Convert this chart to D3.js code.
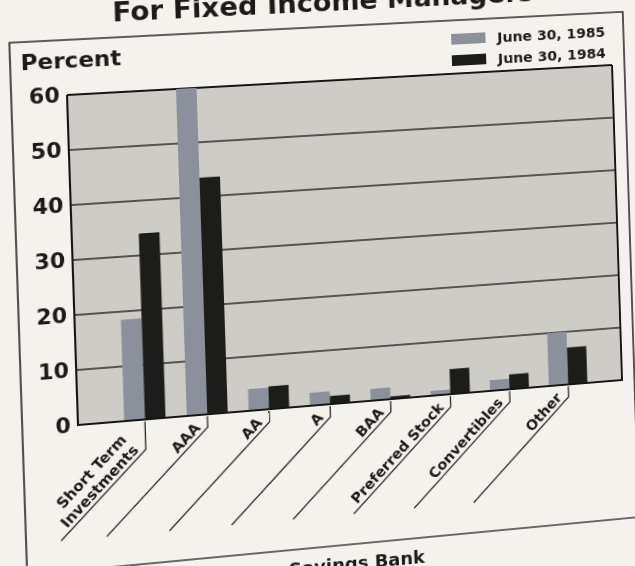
<!DOCTYPE html>
<html>
<head>
<meta charset="utf-8">
<script src="https://cdn.jsdelivr.net/npm/d3@7"></script>
<style>
  html, body { margin: 0; padding: 0; width: 635px; height: 566px; overflow: hidden; background: #f3f2ed; }
  #page { position: absolute; left: 0; top: 0; transform-origin: 0 0; }
  text { font-family: "DejaVu Sans", sans-serif; font-weight: bold; fill: #1b1b19; }
</style>
</head>
<body>
<div id="page"></div>
<script>
// chart data
const categories = ['Short Term\nInvestments', 'AAA', 'AA', 'A', 'BAA', 'Preferred Stock', 'Convertibles', 'Other'];
const seriesNames = ['June 30, 1985', 'June 30, 1984'];
const values1985 = [18.5, 60, 4, 2.4, 2.2, 0.9, 2.0, 10];
const values1984 = [34, 43.5, 4.2, 1.5, 0.5, 4.7, 2.8, 7];
const yTicks = [0, 10, 20, 30, 40, 50, 60];
const seriesColors = ['#8b909b', '#1c1c18'];

const W = 700, H = 680;
const plot = { left: 70, top: 95, right: 615, bottom: 425 };
const frame = { left: 17, top: 40, right: 628, rule: 570 };

// the scan is a tilted photo of the page: map the flat chart onto it
const photoCorners = [[67, 95], [612, 65], [78, 425], [622, 380]];

function homography(src, dst) {
  const A = [], B = [];
  src.forEach(([px, py], i) => {
    const [X, Y] = dst[i];
    A.push([px, py, 1, 0, 0, 0, -px * X, -py * X]); B.push(X);
    A.push([0, 0, 0, px, py, 1, -px * Y, -py * Y]); B.push(Y);
  });
  const n = 8;
  for (let c = 0; c < n; c++) {
    let p = c;
    for (let r = c + 1; r < n; r++) if (Math.abs(A[r][c]) > Math.abs(A[p][c])) p = r;
    [A[c], A[p]] = [A[p], A[c]];
    [B[c], B[p]] = [B[p], B[c]];
    for (let r = 0; r < n; r++) {
      if (r === c) continue;
      const f = A[r][c] / A[c][c];
      for (let k = c; k < n; k++) A[r][k] -= f * A[c][k];
      B[r] -= f * B[c];
    }
  }
  return B.map((b, i) => b / A[i][i]);
}

const [a, b, c, d, e, f, g, h] = homography(
  [[plot.left, plot.top], [plot.right, plot.top], [plot.left, plot.bottom], [plot.right, plot.bottom]],
  photoCorners);
document.getElementById('page').style.transform =
  `matrix3d(${a},${d},0,${g},${b},${e},0,${h},0,0,1,0,${c},${f},0,1)`;

const svg = d3.select('#page').append('svg')
  .attr('width', W)
  .attr('height', H);

const x = d3.scaleBand()
  .domain(categories)
  .range([plot.left, plot.right])
  .paddingInner(0.34)
  .paddingOuter(0.665)
  .align(0.55);

const sub = d3.scaleBand()
  .domain(seriesNames)
  .range([0, x.bandwidth()]);

const y = d3.scaleLinear()
  .domain([0, 60])
  .range([plot.bottom, plot.top]);

// page frame
svg.append('path')
  .attr('d', `M${frame.left},${H} V${frame.top} H${frame.right} V${H}`)
  .attr('fill', 'none')
  .attr('stroke', '#2a2a28')
  .attr('stroke-width', 1.6);
svg.append('line')
  .attr('x1', frame.left).attr('x2', frame.right)
  .attr('y1', frame.rule).attr('y2', frame.rule)
  .attr('stroke', '#3a3a38')
  .attr('stroke-width', 1.4);

svg.append('text')
  .attr('x', 116)
  .attr('y', 24)
  .style('font-size', '27px')
  .text('For Fixed Income Managers');

svg.append('text')
  .attr('x', frame.left + 253)
  .attr('y', frame.rule + 26)
  .style('font-size', '18px')
  .text('Savings Bank');

svg.append('text')
  .attr('x', 27)
  .attr('y', 68)
  .style('font-size', '22px')
  .text('Percent');

// legend
const legend = svg.append('g')
  .attr('transform', 'translate(450, 54)');
seriesNames.forEach((name, i) => {
  legend.append('rect')
    .attr('x', 0)
    .attr('y', i * 22)
    .attr('width', 35)
    .attr('height', 11)
    .attr('fill', seriesColors[i]);
  legend.append('text')
    .attr('x', 47)
    .attr('y', i * 22 + 11)
    .style('font-size', '14.5px')
    .text(name);
});

// plot background and grid
svg.append('rect')
  .attr('x', plot.left)
  .attr('y', plot.top)
  .attr('width', plot.right - plot.left)
  .attr('height', plot.bottom - plot.top)
  .attr('fill', '#cdccc7');

svg.append('g')
  .selectAll('line')
  .data(yTicks.filter(t => t > 0 && t < 60))
  .enter()
  .append('line')
  .attr('x1', plot.left)
  .attr('x2', plot.right)
  .attr('y1', t => y(t))
  .attr('y2', t => y(t))
  .attr('stroke', '#2c2c2a')
  .attr('stroke-width', 1.3);

svg.append('line')
  .attr('x1', plot.left).attr('x2', plot.right)
  .attr('y1', plot.top).attr('y2', plot.top)
  .attr('stroke', '#151513')
  .attr('stroke-width', 2);

// bars
const rows = [];
categories.forEach((cat, i) => {
  rows.push({ cat, series: seriesNames[0], value: values1985[i], color: seriesColors[0] });
  rows.push({ cat, series: seriesNames[1], value: values1984[i], color: seriesColors[1] });
});

svg.append('g')
  .selectAll('.bar')
  .data(rows)
  .enter()
  .append('rect')
  .attr('class', 'bar')
  .attr('x', r => x(r.cat) + sub(r.series))
  .attr('y', r => y(r.value))
  .attr('width', sub.bandwidth())
  .attr('height', r => y(0) - y(r.value))
  .attr('fill', r => r.color);

svg.append('path')
  .attr('d', `M${plot.left},${plot.top} V${plot.bottom} H${plot.right} V${plot.top}`)
  .attr('fill', 'none')
  .attr('stroke', '#151513')
  .attr('stroke-width', 2);

// y axis labels
const yAxis = d3.axisLeft(y)
  .tickValues(yTicks)
  .tickSize(0)
  .tickPadding(7);

const yg = svg.append('g')
  .attr('transform', `translate(${plot.left}, 0)`)
  .call(yAxis);
yg.select('.domain').remove();
yg.selectAll('text')
  .attr('fill', '#1b1b19')
  .style('font-family', '"DejaVu Sans", sans-serif')
  .style('font-weight', 'bold')
  .style('font-size', '21px');

// category labels on leader lines
const leaderEnd = 539;
const labels = svg.append('g');
categories.forEach(cat => {
  const lines = cat.split('\n');
  const cx = x(cat) + x.bandwidth() / 2;
  const cornerY = plot.bottom + (lines.length > 1 ? 30 : 13);
  const run = leaderEnd - cornerY;
  labels.append('path')
    .attr('d', `M${cx},${plot.bottom + 2} V${cornerY} L${cx - run},${leaderEnd}`)
    .attr('fill', 'none')
    .attr('stroke', '#2a2a28')
    .attr('stroke-width', 1.3);
  lines.forEach((line, i) => {
    const off = 4 + (lines.length - 1 - i) * 16;
    const ax = cx - 5 / Math.SQRT2 - off / Math.SQRT2;
    const ay = cornerY + 5 / Math.SQRT2 - off / Math.SQRT2;
    labels.append('text')
      .attr('transform', `translate(${ax}, ${ay}) rotate(-45)`)
      .attr('text-anchor', 'end')
      .style('font-size', '14.5px')
      .text(line);
  });
});
</script>
</body>
</html>
